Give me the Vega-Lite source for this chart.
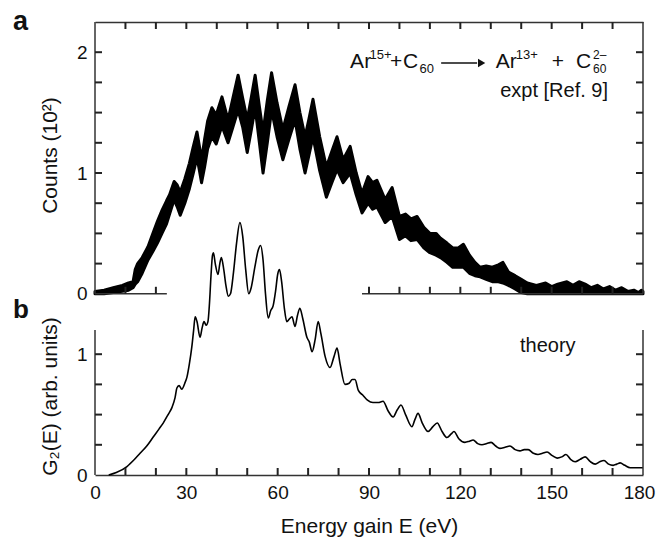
{
 "$schema": "https://vega.github.io/schema/vega-lite/v6.json",
 "width": 548, "height": 453,
 "autosize": {"type": "none"},
 "padding": {"left": 95, "top": 22, "right": 14, "bottom": 62},
 "background": "white",
 "config": {
   "view": {"stroke": null},
   "font": "Liberation Sans",
   "axis": {"labelFont": "Liberation Sans", "labelFontSize": 19, "labelColor": "#111", "titleFont": "Liberation Sans", "titleFontSize": 21, "titleFontWeight": "normal", "titleColor": "#111", "domainColor": "#333", "domainWidth": 1.5, "grid": false, "labelPadding": 8, "labelFlush": false, "labelOverlap": false},
   "text": {"font": "Liberation Sans", "color": "#111"}
 },
 "data": {"values": [{}]},
 "datasets": {
  "theory": [
   {"E":4.5,"G":0},{"E":7,"G":0.02},{"E":10.5,"G":0.07},{"E":13,"G":0.13},{"E":14.8,"G":0.18},{"E":17,"G":0.24},{"E":19,"G":0.31},{"E":21,"G":0.38},{"E":22.4,"G":0.43},{"E":24,"G":0.5},{"E":25.3,"G":0.56},{"E":26.3,"G":0.64},{"E":26.9,"G":0.72},{"E":27.6,"G":0.74},{"E":28.5,"G":0.71},{"E":29.5,"G":0.76},{"E":30.2,"G":0.81},{"E":31,"G":0.92},{"E":31.8,"G":1.06},{"E":32.4,"G":1.2},{"E":32.9,"G":1.31},{"E":33.5,"G":1.27},{"E":34.5,"G":1.14},{"E":35.2,"G":1.22},{"E":35.8,"G":1.27},{"E":36.5,"G":1.24},{"E":37.1,"G":1.27},{"E":37.6,"G":1.42},{"E":38.1,"G":1.65},{"E":38.6,"G":1.82},{"E":38.9,"G":1.84},{"E":39.5,"G":1.75},{"E":40.4,"G":1.66},{"E":41,"G":1.75},{"E":41.5,"G":1.8},{"E":42.3,"G":1.7},{"E":43,"G":1.57},{"E":43.8,"G":1.48},{"E":44.5,"G":1.5},{"E":45.5,"G":1.68},{"E":46.5,"G":1.92},{"E":47.6,"G":2.09},{"E":48.5,"G":1.98},{"E":49.5,"G":1.7},{"E":50.5,"G":1.5},{"E":51.3,"G":1.55},{"E":52.5,"G":1.72},{"E":53.6,"G":1.86},{"E":54.4,"G":1.9},{"E":55.2,"G":1.78},{"E":56,"G":1.5},{"E":56.9,"G":1.3},{"E":57.7,"G":1.36},{"E":58.5,"G":1.4},{"E":59.3,"G":1.52},{"E":60,"G":1.66},{"E":60.6,"G":1.7},{"E":61.3,"G":1.6},{"E":62.2,"G":1.38},{"E":63,"G":1.27},{"E":63.8,"G":1.29},{"E":64.7,"G":1.31},{"E":65.7,"G":1.23},{"E":66.5,"G":1.32},{"E":67.3,"G":1.38},{"E":68.2,"G":1.3},{"E":69.6,"G":1.14},{"E":70.4,"G":1.1},{"E":71.3,"G":1.02},{"E":72.3,"G":1.12},{"E":73.3,"G":1.27},{"E":74.2,"G":1.17},{"E":75.6,"G":0.98},{"E":77.2,"G":0.89},{"E":78.5,"G":0.98},{"E":79.5,"G":1.05},{"E":80.5,"G":0.92},{"E":82.1,"G":0.75},{"E":83.5,"G":0.76},{"E":84.5,"G":0.79},{"E":85.4,"G":0.79},{"E":86.5,"G":0.7},{"E":88,"G":0.66},{"E":89.5,"G":0.62},{"E":91.3,"G":0.6},{"E":93,"G":0.6},{"E":94.6,"G":0.61},{"E":96.3,"G":0.53},{"E":97.9,"G":0.48},{"E":99.3,"G":0.54},{"E":100.5,"G":0.58},{"E":102,"G":0.5},{"E":104.1,"G":0.4},{"E":105.1,"G":0.46},{"E":106.1,"G":0.51},{"E":107.5,"G":0.43},{"E":109.4,"G":0.36},{"E":111,"G":0.4},{"E":112.4,"G":0.43},{"E":114,"G":0.36},{"E":115.6,"G":0.31},{"E":117,"G":0.34},{"E":117.9,"G":0.36},{"E":119.5,"G":0.3},{"E":121.5,"G":0.27},{"E":123,"G":0.28},{"E":124.2,"G":0.29},{"E":125.7,"G":0.26},{"E":127.1,"G":0.25},{"E":128.7,"G":0.26},{"E":130.1,"G":0.27},{"E":131.6,"G":0.24},{"E":133,"G":0.22},{"E":134.7,"G":0.23},{"E":136.3,"G":0.24},{"E":138,"G":0.21},{"E":139.6,"G":0.2},{"E":141,"G":0.21},{"E":142.3,"G":0.21},{"E":144,"G":0.18},{"E":145.5,"G":0.17},{"E":147,"G":0.18},{"E":148.5,"G":0.19},{"E":150.2,"G":0.16},{"E":151.8,"G":0.14},{"E":153.3,"G":0.15},{"E":154.7,"G":0.17},{"E":156.2,"G":0.13},{"E":157.7,"G":0.11},{"E":159.4,"G":0.13},{"E":161,"G":0.15},{"E":162.7,"G":0.11},{"E":164.3,"G":0.09},{"E":165.8,"G":0.11},{"E":167.2,"G":0.12},{"E":168.7,"G":0.09},{"E":170.2,"G":0.08},{"E":171.4,"G":0.09},{"E":172.5,"G":0.1},{"E":174,"G":0.08},{"E":175.8,"G":0.06},{"E":178,"G":0.06},{"E":180,"G":0.06}
  ],
  "expt": [
   {"E":0,"lo":0,"hi":0.02},{"E":3,"lo":0,"hi":0.03},{"E":6,"lo":0.01,"hi":0.05},{"E":9,"lo":0.02,"hi":0.07},{"E":11,"lo":0.03,"hi":0.09},{"E":12.5,"lo":0.05,"hi":0.1},{"E":13.2,"lo":0.08,"hi":0.2},{"E":14,"lo":0.1,"hi":0.25},{"E":15.5,"lo":0.17,"hi":0.3},{"E":17.4,"lo":0.28,"hi":0.39},{"E":19,"lo":0.35,"hi":0.5},{"E":20.5,"lo":0.42,"hi":0.6},{"E":22,"lo":0.5,"hi":0.69},{"E":23.5,"lo":0.58,"hi":0.77},{"E":24.5,"lo":0.66,"hi":0.82},{"E":26,"lo":0.78,"hi":0.93},{"E":27,"lo":0.72,"hi":0.9},{"E":28,"lo":0.65,"hi":0.84},{"E":29.5,"lo":0.75,"hi":0.95},{"E":31,"lo":0.87,"hi":1.08},{"E":32.3,"lo":1.0,"hi":1.22},{"E":33.5,"lo":1.13,"hi":1.34},{"E":34.3,"lo":1.02,"hi":1.22},{"E":35,"lo":0.92,"hi":1.11},{"E":36,"lo":1.05,"hi":1.28},{"E":37,"lo":1.2,"hi":1.43},{"E":38.4,"lo":1.3,"hi":1.54},{"E":39.8,"lo":1.24,"hi":1.48},{"E":41.7,"lo":1.39,"hi":1.63},{"E":43.7,"lo":1.25,"hi":1.44},{"E":45.3,"lo":1.38,"hi":1.62},{"E":47,"lo":1.52,"hi":1.81},{"E":48.5,"lo":1.38,"hi":1.62},{"E":50,"lo":1.17,"hi":1.44},{"E":51.3,"lo":1.35,"hi":1.62},{"E":52.6,"lo":1.54,"hi":1.81},{"E":54,"lo":1.25,"hi":1.55},{"E":55.2,"lo":1.0,"hi":1.34},{"E":56.6,"lo":1.25,"hi":1.6},{"E":58,"lo":1.52,"hi":1.83},{"E":59.8,"lo":1.3,"hi":1.58},{"E":61.7,"lo":1.11,"hi":1.36},{"E":63.7,"lo":1.28,"hi":1.55},{"E":65.7,"lo":1.44,"hi":1.73},{"E":67.3,"lo":1.2,"hi":1.5},{"E":69,"lo":1.0,"hi":1.3},{"E":70.3,"lo":1.15,"hi":1.45},{"E":71.6,"lo":1.3,"hi":1.61},{"E":73.8,"lo":1.02,"hi":1.3},{"E":76,"lo":0.8,"hi":1.05},{"E":77.8,"lo":0.92,"hi":1.18},{"E":79.5,"lo":1.03,"hi":1.3},{"E":81.5,"lo":0.92,"hi":1.11},{"E":83.8,"lo":1.0,"hi":1.22},{"E":85.8,"lo":0.82,"hi":1.0},{"E":87.7,"lo":0.67,"hi":0.83},{"E":89.7,"lo":0.75,"hi":0.97},{"E":91.2,"lo":0.7,"hi":0.92},{"E":92.6,"lo":0.72,"hi":0.94},{"E":95.3,"lo":0.59,"hi":0.78},{"E":97.6,"lo":0.64,"hi":0.88},{"E":100,"lo":0.45,"hi":0.64},{"E":102,"lo":0.48,"hi":0.66},{"E":103.8,"lo":0.44,"hi":0.62},{"E":105.8,"lo":0.45,"hi":0.64},{"E":108,"lo":0.38,"hi":0.55},{"E":110,"lo":0.34,"hi":0.5},{"E":112,"lo":0.32,"hi":0.5},{"E":113.5,"lo":0.3,"hi":0.46},{"E":115.6,"lo":0.26,"hi":0.42},{"E":117.5,"lo":0.22,"hi":0.38},{"E":119.3,"lo":0.22,"hi":0.38},{"E":121,"lo":0.22,"hi":0.41},{"E":123,"lo":0.17,"hi":0.32},{"E":124.8,"lo":0.15,"hi":0.26},{"E":126.5,"lo":0.14,"hi":0.22},{"E":128.5,"lo":0.12,"hi":0.23},{"E":130.5,"lo":0.1,"hi":0.22},{"E":132.5,"lo":0.1,"hi":0.24},{"E":134,"lo":0.09,"hi":0.26},{"E":135.8,"lo":0.07,"hi":0.18},{"E":138,"lo":0.04,"hi":0.15},{"E":140,"lo":0.01,"hi":0.12},{"E":142,"lo":0,"hi":0.09},{"E":145,"lo":0,"hi":0.07},{"E":148,"lo":0,"hi":0.09},{"E":150,"lo":0,"hi":0.06},{"E":152,"lo":0,"hi":0.08},{"E":155,"lo":0,"hi":0.1},{"E":157,"lo":0,"hi":0.07},{"E":159,"lo":0,"hi":0.1},{"E":161,"lo":0,"hi":0.08},{"E":163,"lo":0,"hi":0.05},{"E":165,"lo":0,"hi":0.07},{"E":167,"lo":0,"hi":0.04},{"E":169,"lo":0,"hi":0.06},{"E":171,"lo":0,"hi":0.03},{"E":173,"lo":0,"hi":0.05},{"E":175,"lo":0,"hi":0.02},{"E":177,"lo":0,"hi":0.03},{"E":178.5,"lo":0,"hi":0.01},{"E":179.5,"lo":0,"hi":0.03},{"E":180,"lo":0,"hi":0.02}
  ]
 },
 "resolve": {"scale": {"y": "independent"}, "axis": {"x": "independent", "y": "independent"}},
 "layer": [
  {"data": {"name": "theory"}, "mark": {"type": "line", "color": "black", "strokeWidth": 1.6, "interpolate": "monotone"},
   "encoding": {
    "x": {"field": "E", "type": "quantitative", "scale": {"domain": [0, 180], "nice": false, "zero": false},
      "axis": {"orient": "bottom", "values": [0,30,60,90,120,150,180], "ticks": false, "labelFlush": false, "format": "d", "labelOffset": {"condition": {"test": "datum.value === 180", "value": -4}, "value": 0}, "title": "Energy gain E (eV)", "titlePadding": 13}},
    "y": {"field": "G", "type": "quantitative", "scale": {"domain": [0, 3.75], "nice": false, "zero": false},
      "axis": {"orient": "left", "values": [0, 1], "ticks": false, "domain": false, "format": "d", "title": "G₂(E)  (arb. units)", "titleY": 374, "titlePadding": 16}}
   }},
  {"data": {"name": "expt"}, "mark": {"type": "area", "color": "black", "stroke": "black", "strokeWidth": 3, "strokeJoin": "round", "interpolate": "linear"},
   "encoding": {
    "x": {"field": "E", "type": "quantitative", "scale": {"domain": [0, 180], "nice": false, "zero": false},
      "axis": {"orient": "top", "ticks": false, "labels": false, "domain": true, "title": null}},
    "y": {"field": "hi", "type": "quantitative", "scale": {"domain": [-1.5, 2.25], "nice": false, "zero": false},
      "axis": {"orient": "left", "values": [0, 1, 2], "ticks": false, "domain": false, "format": "d", "title": "Counts (10²)", "titleY": 133, "titlePadding": 16}},
    "y2": {"field": "lo"}
   }},
  {"data": {"values": [{"E": 0}, {"E": 180}]}, "mark": {"type": "rule", "color": "#333", "strokeWidth": 1.5},
   "encoding": {
    "x": {"field": "E", "type": "quantitative", "scale": {"domain": [0, 180], "nice": false, "zero": false}, "axis": null},
    "y": {"datum": 0, "type": "quantitative", "scale": {"domain": [0, 3.75], "nice": false, "zero": false}, "axis": null},
    "y2": {"datum": 1.2}
   }},
  {"data": {"values": [{"E": 0}, {"E": 180}]}, "mark": {"type": "rule", "color": "#333", "strokeWidth": 1.5},
   "encoding": {
    "x": {"field": "E", "type": "quantitative", "scale": {"domain": [0, 180], "nice": false, "zero": false}, "axis": null},
    "y": {"datum": 0, "type": "quantitative", "scale": {"domain": [-1.5, 2.25], "nice": false, "zero": false}, "axis": null},
    "y2": {"datum": 2.25}
   }},
  {"data": {"values": [{"E": 0, "E2": 23.6}, {"E": 87.7, "E2": 180}]}, "mark": {"type": "rule", "color": "#333", "strokeWidth": 1.5},
   "encoding": {
    "x": {"field": "E", "type": "quantitative", "scale": {"domain": [0, 180], "nice": false, "zero": false}, "axis": null},
    "x2": {"field": "E2"},
    "y": {"datum": 0, "type": "quantitative", "scale": {"domain": [-1.5, 2.25], "nice": false, "zero": false}, "axis": null}
   }},
  {"data": {"values": [{"E":10},{"E":20},{"E":30},{"E":40},{"E":50},{"E":60},{"E":70},{"E":80},{"E":90},{"E":100},{"E":110},{"E":120},{"E":130},{"E":140},{"E":150},{"E":160},{"E":170}]}, "mark": {"type": "rule", "color": "#222", "strokeWidth": 2},
   "encoding": {
    "x": {"field": "E", "type": "quantitative", "scale": {"domain": [0, 180], "nice": false, "zero": false}, "axis": null},
    "y": {"datum": 0, "type": "quantitative", "scale": {"domain": [0, 3.75], "nice": false, "zero": false}, "axis": null},
    "y2": {"datum": 0.058}
   }},
  {"data": {"values": [{"E":10},{"E":20},{"E":30},{"E":40},{"E":50},{"E":60},{"E":70},{"E":80},{"E":90},{"E":100},{"E":110},{"E":120},{"E":130},{"E":140},{"E":150},{"E":160},{"E":170}]}, "mark": {"type": "rule", "color": "#222", "strokeWidth": 2},
   "encoding": {
    "x": {"field": "E", "type": "quantitative", "scale": {"domain": [0, 180], "nice": false, "zero": false}, "axis": null},
    "y": {"datum": 3.692, "type": "quantitative", "scale": {"domain": [0, 3.75], "nice": false, "zero": false}, "axis": null},
    "y2": {"datum": 3.75}
   }},
  {"data": {"values": [{"E":10},{"E":20},{"E":90},{"E":100},{"E":110},{"E":120},{"E":130},{"E":140},{"E":150},{"E":160},{"E":170}]}, "mark": {"type": "rule", "color": "#222", "strokeWidth": 2},
   "encoding": {
    "x": {"field": "E", "type": "quantitative", "scale": {"domain": [0, 180], "nice": false, "zero": false}, "axis": null},
    "y": {"datum": 1.5, "type": "quantitative", "scale": {"domain": [0, 3.75], "nice": false, "zero": false}, "axis": null},
    "y2": {"datum": 1.558}
   }},
  {"data": {"values": [{"v":0.25},{"v":0.5},{"v":0.75},{"v":1},{"v":1.75},{"v":2},{"v":2.25},{"v":2.5},{"v":2.75},{"v":3},{"v":3.25},{"v":3.5}]}, "mark": {"type": "rule", "color": "#222", "strokeWidth": 2},
   "encoding": {
    "x": {"datum": 0, "type": "quantitative", "scale": {"domain": [0, 180], "nice": false, "zero": false}, "axis": null},
    "x2": {"datum": 2.3},
    "y": {"field": "v", "type": "quantitative", "scale": {"domain": [0, 3.75], "nice": false, "zero": false}, "axis": null}
   }},
  {"data": {"values": [{"v":0.25},{"v":0.5},{"v":0.75},{"v":1},{"v":1.75},{"v":2},{"v":2.25},{"v":2.5},{"v":2.75},{"v":3},{"v":3.25},{"v":3.5}]}, "mark": {"type": "rule", "color": "#222", "strokeWidth": 2},
   "encoding": {
    "x": {"datum": 177.7, "type": "quantitative", "scale": {"domain": [0, 180], "nice": false, "zero": false}, "axis": null},
    "x2": {"datum": 180},
    "y": {"field": "v", "type": "quantitative", "scale": {"domain": [0, 3.75], "nice": false, "zero": false}, "axis": null}
   }},
  {"mark": {"type": "text", "text": "a", "fontSize": 27, "fontWeight": "bold", "align": "left", "baseline": "alphabetic"},
   "encoding": {"x": {"datum": -26.9, "type": "quantitative", "scale": {"domain": [0, 180], "nice": false, "zero": false}, "axis": null},
    "y": {"datum": 2.184, "type": "quantitative", "scale": {"domain": [-1.5, 2.25], "nice": false, "zero": false}, "axis": null}}},
  {"mark": {"type": "text", "text": "b", "fontSize": 26, "fontWeight": "bold", "align": "left", "baseline": "alphabetic"},
   "encoding": {"x": {"datum": -26.9, "type": "quantitative", "scale": {"domain": [0, 180], "nice": false, "zero": false}, "axis": null},
    "y": {"datum": 1.30, "type": "quantitative", "scale": {"domain": [0, 3.75], "nice": false, "zero": false}, "axis": null}}},
  {"mark": {"type": "text", "text": "Ar", "fontSize": 21, "align": "left", "baseline": "alphabetic"},
   "encoding": {"x": {"datum": 83.8, "type": "quantitative", "scale": {"domain": [0, 180], "nice": false, "zero": false}, "axis": null},
    "y": {"datum": 1.869, "type": "quantitative", "scale": {"domain": [-1.5, 2.25], "nice": false, "zero": false}, "axis": null}}},
  {"mark": {"type": "text", "text": "15+", "fontSize": 13, "align": "left", "baseline": "alphabetic"},
   "encoding": {"x": {"datum": 90.2, "type": "quantitative", "scale": {"domain": [0, 180], "nice": false, "zero": false}, "axis": null},
    "y": {"datum": 1.94, "type": "quantitative", "scale": {"domain": [-1.5, 2.25], "nice": false, "zero": false}, "axis": null}}},
  {"mark": {"type": "text", "text": "+", "fontSize": 21, "align": "left", "baseline": "alphabetic"},
   "encoding": {"x": {"datum": 96.9, "type": "quantitative", "scale": {"domain": [0, 180], "nice": false, "zero": false}, "axis": null},
    "y": {"datum": 1.869, "type": "quantitative", "scale": {"domain": [-1.5, 2.25], "nice": false, "zero": false}, "axis": null}}},
  {"mark": {"type": "text", "text": "C", "fontSize": 21, "align": "left", "baseline": "alphabetic"},
   "encoding": {"x": {"datum": 101.2, "type": "quantitative", "scale": {"domain": [0, 180], "nice": false, "zero": false}, "axis": null},
    "y": {"datum": 1.869, "type": "quantitative", "scale": {"domain": [-1.5, 2.25], "nice": false, "zero": false}, "axis": null}}},
  {"mark": {"type": "text", "text": "60", "fontSize": 13, "align": "left", "baseline": "alphabetic"},
   "encoding": {"x": {"datum": 106.6, "type": "quantitative", "scale": {"domain": [0, 180], "nice": false, "zero": false}, "axis": null},
    "y": {"datum": 1.829, "type": "quantitative", "scale": {"domain": [-1.5, 2.25], "nice": false, "zero": false}, "axis": null}}},
  {"mark": {"type": "rule", "color": "#111", "strokeWidth": 1.5},
   "encoding": {"x": {"datum": 113.7, "type": "quantitative", "scale": {"domain": [0, 180], "nice": false, "zero": false}, "axis": null},
    "x2": {"datum": 125.5},
    "y": {"datum": 1.911, "type": "quantitative", "scale": {"domain": [-1.5, 2.25], "nice": false, "zero": false}, "axis": null}}},
  {"mark": {"type": "point", "shape": "triangle-right", "filled": true, "color": "#111", "size": 70, "opacity": 1},
   "encoding": {"x": {"datum": 127.0, "type": "quantitative", "scale": {"domain": [0, 180], "nice": false, "zero": false}, "axis": null},
    "y": {"datum": 1.911, "type": "quantitative", "scale": {"domain": [-1.5, 2.25], "nice": false, "zero": false}, "axis": null}}},
  {"mark": {"type": "text", "text": "Ar", "fontSize": 21, "align": "left", "baseline": "alphabetic"},
   "encoding": {"x": {"datum": 131.6, "type": "quantitative", "scale": {"domain": [0, 180], "nice": false, "zero": false}, "axis": null},
    "y": {"datum": 1.869, "type": "quantitative", "scale": {"domain": [-1.5, 2.25], "nice": false, "zero": false}, "axis": null}}},
  {"mark": {"type": "text", "text": "13+", "fontSize": 13, "align": "left", "baseline": "alphabetic"},
   "encoding": {"x": {"datum": 138.2, "type": "quantitative", "scale": {"domain": [0, 180], "nice": false, "zero": false}, "axis": null},
    "y": {"datum": 1.94, "type": "quantitative", "scale": {"domain": [-1.5, 2.25], "nice": false, "zero": false}, "axis": null}}},
  {"mark": {"type": "text", "text": "+", "fontSize": 21, "align": "left", "baseline": "alphabetic"},
   "encoding": {"x": {"datum": 150.0, "type": "quantitative", "scale": {"domain": [0, 180], "nice": false, "zero": false}, "axis": null},
    "y": {"datum": 1.869, "type": "quantitative", "scale": {"domain": [-1.5, 2.25], "nice": false, "zero": false}, "axis": null}}},
  {"mark": {"type": "text", "text": "C", "fontSize": 21, "align": "left", "baseline": "alphabetic"},
   "encoding": {"x": {"datum": 158.0, "type": "quantitative", "scale": {"domain": [0, 180], "nice": false, "zero": false}, "axis": null},
    "y": {"datum": 1.869, "type": "quantitative", "scale": {"domain": [-1.5, 2.25], "nice": false, "zero": false}, "axis": null}}},
  {"mark": {"type": "text", "text": "2–", "fontSize": 12, "align": "left", "baseline": "alphabetic"},
   "encoding": {"x": {"datum": 163.6, "type": "quantitative", "scale": {"domain": [0, 180], "nice": false, "zero": false}, "axis": null},
    "y": {"datum": 1.94, "type": "quantitative", "scale": {"domain": [-1.5, 2.25], "nice": false, "zero": false}, "axis": null}}},
  {"mark": {"type": "text", "text": "60", "fontSize": 12, "align": "left", "baseline": "alphabetic"},
   "encoding": {"x": {"datum": 163.6, "type": "quantitative", "scale": {"domain": [0, 180], "nice": false, "zero": false}, "axis": null},
    "y": {"datum": 1.825, "type": "quantitative", "scale": {"domain": [-1.5, 2.25], "nice": false, "zero": false}, "axis": null}}},
  {"mark": {"type": "text", "text": "expt [Ref. 9]", "fontSize": 20, "align": "right", "baseline": "alphabetic"},
   "encoding": {"x": {"datum": 168.5, "type": "quantitative", "scale": {"domain": [0, 180], "nice": false, "zero": false}, "axis": null},
    "y": {"datum": 1.629, "type": "quantitative", "scale": {"domain": [-1.5, 2.25], "nice": false, "zero": false}, "axis": null}}},
  {"mark": {"type": "text", "text": "theory", "fontSize": 20, "align": "left", "baseline": "alphabetic"},
   "encoding": {"x": {"datum": 139.6, "type": "quantitative", "scale": {"domain": [0, 180], "nice": false, "zero": false}, "axis": null},
    "y": {"datum": 1.018, "type": "quantitative", "scale": {"domain": [0, 3.75], "nice": false, "zero": false}, "axis": null}}}
 ]
}
